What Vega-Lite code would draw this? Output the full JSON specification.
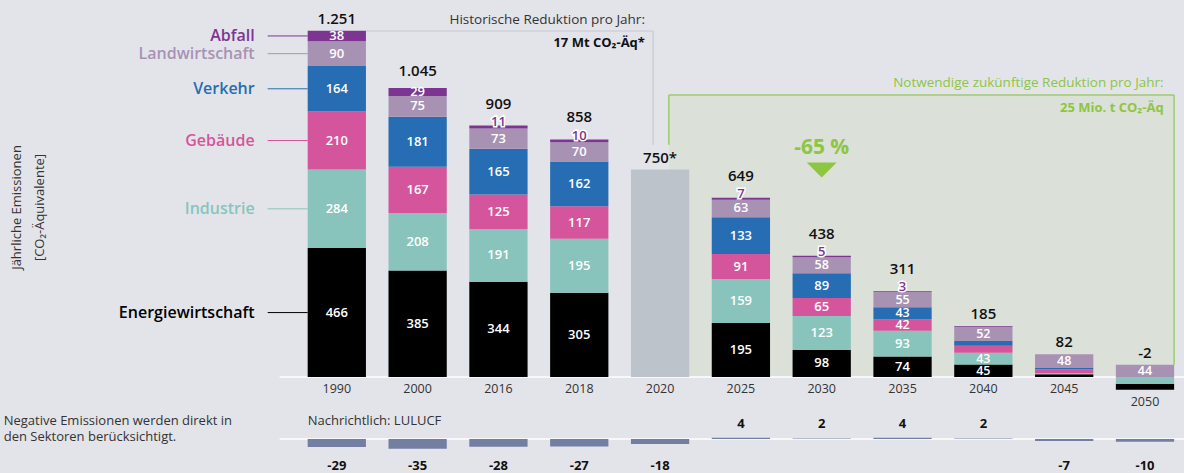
{
"$schema": "https://vega.github.io/schema/vega-lite/v6.json",
"width": 1184, "height": 473,
"autosize": {"type": "fit", "contains": "padding"},
"padding": 0,
"background": "#e3e4ea",
"config": {"view": {"stroke": null}, "font": "Open Sans", "axis": {"grid": false}, "axisX": {"disable": true}},
"datasets": {
 "sectors": [
  {"year": "1990", "sector": "Energiewirtschaft", "value": 466},
  {"year": "1990", "sector": "Industrie", "value": 284},
  {"year": "1990", "sector": "Gebäude", "value": 210},
  {"year": "1990", "sector": "Verkehr", "value": 164},
  {"year": "1990", "sector": "Landwirtschaft", "value": 90},
  {"year": "1990", "sector": "Abfall", "value": 38},
  {"year": "2000", "sector": "Energiewirtschaft", "value": 385},
  {"year": "2000", "sector": "Industrie", "value": 208},
  {"year": "2000", "sector": "Gebäude", "value": 167},
  {"year": "2000", "sector": "Verkehr", "value": 181},
  {"year": "2000", "sector": "Landwirtschaft", "value": 75},
  {"year": "2000", "sector": "Abfall", "value": 29},
  {"year": "2016", "sector": "Energiewirtschaft", "value": 344},
  {"year": "2016", "sector": "Industrie", "value": 191},
  {"year": "2016", "sector": "Gebäude", "value": 125},
  {"year": "2016", "sector": "Verkehr", "value": 165},
  {"year": "2016", "sector": "Landwirtschaft", "value": 73},
  {"year": "2016", "sector": "Abfall", "value": 11},
  {"year": "2018", "sector": "Energiewirtschaft", "value": 305},
  {"year": "2018", "sector": "Industrie", "value": 195},
  {"year": "2018", "sector": "Gebäude", "value": 117},
  {"year": "2018", "sector": "Verkehr", "value": 162},
  {"year": "2018", "sector": "Landwirtschaft", "value": 70},
  {"year": "2018", "sector": "Abfall", "value": 10},
  {"year": "2020", "sector": "Prognose", "value": 750},
  {"year": "2025", "sector": "Energiewirtschaft", "value": 195},
  {"year": "2025", "sector": "Industrie", "value": 159},
  {"year": "2025", "sector": "Gebäude", "value": 91},
  {"year": "2025", "sector": "Verkehr", "value": 133},
  {"year": "2025", "sector": "Landwirtschaft", "value": 63},
  {"year": "2025", "sector": "Abfall", "value": 7},
  {"year": "2030", "sector": "Energiewirtschaft", "value": 98},
  {"year": "2030", "sector": "Industrie", "value": 123},
  {"year": "2030", "sector": "Gebäude", "value": 65},
  {"year": "2030", "sector": "Verkehr", "value": 89},
  {"year": "2030", "sector": "Landwirtschaft", "value": 58},
  {"year": "2030", "sector": "Abfall", "value": 5},
  {"year": "2035", "sector": "Energiewirtschaft", "value": 74},
  {"year": "2035", "sector": "Industrie", "value": 93},
  {"year": "2035", "sector": "Gebäude", "value": 42},
  {"year": "2035", "sector": "Verkehr", "value": 43},
  {"year": "2035", "sector": "Landwirtschaft", "value": 55},
  {"year": "2035", "sector": "Abfall", "value": 3},
  {"year": "2040", "sector": "Energiewirtschaft", "value": 45},
  {"year": "2040", "sector": "Industrie", "value": 43},
  {"year": "2040", "sector": "Gebäude", "value": 25},
  {"year": "2040", "sector": "Verkehr", "value": 17},
  {"year": "2040", "sector": "Landwirtschaft", "value": 52},
  {"year": "2040", "sector": "Abfall", "value": 2},
  {"year": "2045", "sector": "Energiewirtschaft", "value": 10},
  {"year": "2045", "sector": "Industrie", "value": 4},
  {"year": "2045", "sector": "Gebäude", "value": 14},
  {"year": "2045", "sector": "Verkehr", "value": 6},
  {"year": "2045", "sector": "Landwirtschaft", "value": 48},
  {"year": "2050", "sector": "Energiewirtschaft", "value": -22},
  {"year": "2050", "sector": "Industrie", "value": -24},
  {"year": "2050", "sector": "Landwirtschaft", "value": 44}
 ],
 "totals": [
  {"year": "1990", "label": "1.251"},
  {"year": "2000", "label": "1.045"},
  {"year": "2016", "label": "909"},
  {"year": "2018", "label": "858"},
  {"year": "2020", "label": "750*"},
  {"year": "2025", "label": "649"},
  {"year": "2030", "label": "438"},
  {"year": "2035", "label": "311"},
  {"year": "2040", "label": "185"},
  {"year": "2045", "label": "82"},
  {"year": "2050", "label": "-2"}
 ],
 "lulucf": [
  {"year": "1990", "value": -29},
  {"year": "2000", "value": -35},
  {"year": "2016", "value": -28},
  {"year": "2018", "value": -27},
  {"year": "2020", "value": -18},
  {"year": "2025", "value": 4},
  {"year": "2030", "value": 2},
  {"year": "2035", "value": 4},
  {"year": "2040", "value": 2},
  {"year": "2045", "value": -7},
  {"year": "2050", "value": -10}
 ],
 "anchor": [{"note": "annotation"}]
},
"layer": [
 {"layer": [
  {"data": {"name": "anchor"},
   "mark": {"type": "rect", "fill": "#dbe0d9"},
   "encoding": {
    "x": {"datum": "2020", "type": "ordinal", "bandPosition": 0.65, "axis": null, "scale": {"type": "band", "domain": ["1990","2000","2016","2018","2020","2025","2030","2035","2040","2045","2050"], "range": [296.4, 1185.4], "paddingInner": 0.279, "paddingOuter": 0.1395}},
    "x2": {"datum": "2050", "bandPosition": 1},
    "y": {"datum": 1020, "type": "quantitative", "scale": {"domain": [-347, 1363], "nice": false, "zero": false},
      "axis": {"title": ["Jährliche Emissionen", "[CO₂-Äquivalente]"], "labels": false, "ticks": false, "domain": false, "grid": false, "titleX": 16, "titleY": 207, "titleAngle": 270, "titleAlign": "center", "titleBaseline": "middle", "titleLineHeight": 23, "titleFontWeight": "normal", "titleFontSize": 13, "titleColor": "#333333", "titleFont": "Open Sans"}},
    "y2": {"datum": 0}
   }},
  {"data": {"name": "anchor"},
   "mark": {"type": "rule", "color": "#9dcc6a", "strokeWidth": 1.5},
   "encoding": {
    "x": {"datum": "2020", "type": "ordinal", "bandPosition": 0.65, "axis": null},
    "x2": {"datum": "2050", "bandPosition": 1},
    "y": {"datum": 1020, "type": "quantitative"}
   }},
  {"data": {"name": "anchor"},
   "mark": {"type": "rule", "color": "#9dcc6a", "strokeWidth": 1.5},
   "encoding": {
    "x": {"datum": "2020", "type": "ordinal", "bandPosition": 0.65, "axis": null},
    "y": {"datum": 1020, "type": "quantitative"},
    "y2": {"datum": 840}
   }},
  {"data": {"name": "anchor"},
   "mark": {"type": "rule", "color": "#9dcc6a", "strokeWidth": 1.5},
   "encoding": {
    "x": {"datum": "2050", "type": "ordinal", "bandPosition": 1, "axis": null},
    "y": {"datum": 1020, "type": "quantitative"},
    "y2": {"datum": 44}
   }},
  {"data": {"name": "anchor"},
   "mark": {"type": "rule", "color": "#c6c8d0", "strokeWidth": 1.2},
   "encoding": {
    "x": {"datum": "1990", "type": "ordinal", "bandPosition": 1, "axis": null},
    "x2": {"datum": "2020", "bandPosition": 0.38},
    "y": {"datum": 1251, "type": "quantitative"}
   }},
  {"data": {"name": "anchor"},
   "mark": {"type": "rule", "color": "#c6c8d0", "strokeWidth": 1.2},
   "encoding": {
    "x": {"datum": "2020", "type": "ordinal", "bandPosition": 0.38, "axis": null},
    "y": {"datum": 1251, "type": "quantitative"},
    "y2": {"datum": 840}
   }},
  {"data": {"name": "anchor"},
   "mark": {"type": "rule", "color": "#ffffff", "strokeWidth": 1.5, "xOffset": -28, "x2Offset": 20},
   "encoding": {
    "x": {"datum": "1990", "type": "ordinal", "bandPosition": 0, "axis": null},
    "x2": {"datum": "2050", "bandPosition": 1},
    "y": {"datum": 0, "type": "quantitative"}
   }},
  {"data": {"name": "sectors"},
   "transform": [
    {"calculate": "indexof(['Energiewirtschaft','Industrie','Gebäude','Verkehr','Landwirtschaft','Abfall','Prognose'], datum.sector)", "as": "rank"},
    {"calculate": "datum.value < 0 ? -datum.rank : datum.rank", "as": "ord"},
    {"stack": "value", "groupby": ["year"], "sort": [{"field": "ord", "order": "ascending"}], "as": ["v0", "v1"]},
    {"calculate": "(datum.v0 + datum.v1) / 2", "as": "mid"}
   ],
   "layer": [
    {"mark": {"type": "bar"},
     "encoding": {
      "x": {"field": "year", "type": "ordinal", "axis": null},
      "y": {"field": "v0", "type": "quantitative"},
      "y2": {"field": "v1"},
      "color": {"field": "sector", "type": "nominal", "legend": null,
        "scale": {"domain": ["Energiewirtschaft","Industrie","Gebäude","Verkehr","Landwirtschaft","Abfall","Prognose"], "range": ["#000000","#88c4bc","#d4559b","#266db3","#a892b4","#7c3691","#bdc3ca"]}}
     }},
    {"transform": [{"filter": "datum.sector != 'Abfall' && datum.sector != 'Prognose' && datum.value >= 60"}],
     "mark": {"type": "text", "color": "#ffffff", "fontSize": 13, "fontWeight": 600, "baseline": "middle"},
     "encoding": {
      "x": {"field": "year", "type": "ordinal", "axis": null},
      "y": {"field": "mid", "type": "quantitative"},
      "text": {"field": "value", "type": "nominal"}
     }},
    {"transform": [{"filter": "datum.sector != 'Abfall' && datum.sector != 'Prognose' && datum.value >= 40 && datum.value < 60"}],
     "mark": {"type": "text", "color": "#ffffff", "fontSize": 12.5, "fontWeight": 600, "baseline": "middle"},
     "encoding": {
      "x": {"field": "year", "type": "ordinal", "axis": null},
      "y": {"field": "mid", "type": "quantitative"},
      "text": {"field": "value", "type": "nominal"}
     }},
    {"transform": [{"filter": "datum.sector == 'Abfall' && datum.value >= 20"}],
     "mark": {"type": "text", "color": "#ffffff", "fontSize": 13, "fontWeight": 600, "baseline": "middle"},
     "encoding": {
      "x": {"field": "year", "type": "ordinal", "axis": null},
      "y": {"field": "mid", "type": "quantitative"},
      "text": {"field": "value", "type": "nominal"}
     }},
    {"transform": [{"filter": "datum.sector == 'Abfall' && datum.value >= 3 && datum.value < 20"}],
     "mark": {"type": "text", "fill": "#ffffff", "stroke": "#ffffff", "strokeWidth": 3, "fontSize": 13, "fontWeight": 600, "baseline": "middle", "dy": -5},
     "encoding": {
      "x": {"field": "year", "type": "ordinal", "axis": null},
      "y": {"field": "mid", "type": "quantitative"},
      "text": {"field": "value", "type": "nominal"}
     }},
    {"transform": [{"filter": "datum.sector == 'Abfall' && datum.value >= 3 && datum.value < 20"}],
     "mark": {"type": "text", "fill": "#7c3691", "fontSize": 13, "fontWeight": 600, "baseline": "middle", "dy": -5},
     "encoding": {
      "x": {"field": "year", "type": "ordinal", "axis": null},
      "y": {"field": "mid", "type": "quantitative"},
      "text": {"field": "value", "type": "nominal"}
     }},
    {"transform": [{"filter": "datum.year == '1990'"}],
     "mark": {"type": "rule", "strokeWidth": 1, "xOffset": -40},
     "encoding": {
      "x": {"datum": "1990", "type": "ordinal", "bandPosition": 0, "axis": null},
      "x2": {"datum": "1990", "bandPosition": 0},
      "y": {"field": "mid", "type": "quantitative"},
      "color": {"field": "sector", "type": "nominal", "legend": null}
     }},
    {"transform": [{"filter": "datum.year == '1990'"}],
     "mark": {"type": "text", "fontSize": 16, "fontWeight": 600, "align": "right", "baseline": "middle", "dx": -53},
     "encoding": {
      "x": {"field": "year", "type": "ordinal", "bandPosition": 0, "axis": null},
      "y": {"field": "mid", "type": "quantitative"},
      "text": {"field": "sector", "type": "nominal"},
      "color": {"field": "sector", "type": "nominal", "legend": null}
     }}
   ]},
  {"data": {"name": "sectors"},
   "transform": [
    {"filter": "datum.value > 0"},
    {"aggregate": [{"op": "sum", "field": "value", "as": "top"}], "groupby": ["year"]},
    {"lookup": "year", "from": {"data": {"name": "totals"}, "key": "year", "fields": ["label"]}}
   ],
   "layer": [
    {"transform": [{"filter": "indexof(['2016','2018','2025','2030','2035'], datum.year) >= 0"}],
     "mark": {"type": "text", "fontSize": 15, "fontWeight": 600, "color": "#111111", "baseline": "middle", "dy": -22},
     "encoding": {"x": {"field": "year", "type": "ordinal", "axis": null}, "y": {"field": "top", "type": "quantitative"}, "text": {"field": "label", "type": "nominal"}}},
    {"transform": [{"filter": "datum.year == '2000'"}],
     "mark": {"type": "text", "fontSize": 15, "fontWeight": 600, "color": "#111111", "baseline": "middle", "dy": -17},
     "encoding": {"x": {"field": "year", "type": "ordinal", "axis": null}, "y": {"field": "top", "type": "quantitative"}, "text": {"field": "label", "type": "nominal"}}},
    {"transform": [{"filter": "indexof(['1990','2020','2040','2045','2050'], datum.year) >= 0"}],
     "mark": {"type": "text", "fontSize": 15, "fontWeight": 600, "color": "#111111", "baseline": "middle", "dy": -12},
     "encoding": {"x": {"field": "year", "type": "ordinal", "axis": null}, "y": {"field": "top", "type": "quantitative"}, "text": {"field": "label", "type": "nominal"}}}
   ]},
  {"data": {"name": "totals"},
   "transform": [{"filter": "datum.year != '2050'"}],
   "mark": {"type": "text", "fontSize": 12.5, "color": "#333333", "baseline": "middle", "dy": 12},
   "encoding": {"x": {"field": "year", "type": "ordinal", "axis": null}, "y": {"datum": 0, "type": "quantitative"}, "text": {"field": "year", "type": "nominal"}}},
  {"data": {"name": "totals"},
   "transform": [{"filter": "datum.year == '2050'"}],
   "mark": {"type": "text", "fontSize": 12.5, "color": "#333333", "baseline": "middle", "dy": 25},
   "encoding": {"x": {"field": "year", "type": "ordinal", "axis": null}, "y": {"datum": 0, "type": "quantitative"}, "text": {"field": "year", "type": "nominal"}}},
  {"data": {"name": "anchor"},
   "mark": {"type": "text", "text": "Historische Reduktion pro Jahr:", "fontSize": 13.5, "color": "#333333", "align": "right", "baseline": "middle"},
   "encoding": {"x": {"datum": "2020", "type": "ordinal", "bandPosition": 0.24, "axis": null}, "y": {"datum": 1291, "type": "quantitative"}}},
  {"data": {"name": "anchor"},
   "mark": {"type": "text", "text": "17 Mt CO₂-Äq*", "fontSize": 13, "fontWeight": "bold", "color": "#111111", "align": "right", "baseline": "middle"},
   "encoding": {"x": {"datum": "2020", "type": "ordinal", "bandPosition": 0.24, "axis": null}, "y": {"datum": 1207, "type": "quantitative"}}},
  {"data": {"name": "anchor"},
   "mark": {"type": "text", "text": "Notwendige zukünftige Reduktion pro Jahr:", "fontSize": 13.5, "color": "#8dc641", "align": "right", "baseline": "middle"},
   "encoding": {"x": {"datum": "2050", "type": "ordinal", "bandPosition": 0.82, "axis": null}, "y": {"datum": 1063, "type": "quantitative"}}},
  {"data": {"name": "anchor"},
   "mark": {"type": "text", "text": "25 Mio. t CO₂-Äq", "fontSize": 13, "fontWeight": "bold", "color": "#8dc641", "align": "right", "baseline": "middle"},
   "encoding": {"x": {"datum": "2050", "type": "ordinal", "bandPosition": 0.82, "axis": null}, "y": {"datum": 972, "type": "quantitative"}}},
  {"data": {"name": "anchor"},
   "mark": {"type": "text", "text": "-65 %", "fontSize": 21, "fontWeight": "bold", "color": "#8dc641", "align": "center", "baseline": "middle"},
   "encoding": {"x": {"datum": "2030", "type": "ordinal", "axis": null}, "y": {"datum": 828, "type": "quantitative"}}},
  {"data": {"name": "anchor"},
   "mark": {"type": "point", "shape": "M-1,-0.5L1,-0.5L0,0.5Z", "size": 900, "filled": true, "fill": "#8dc641", "opacity": 1, "strokeWidth": 0},
   "encoding": {"x": {"datum": "2030", "type": "ordinal", "axis": null}, "y": {"datum": 748, "type": "quantitative"}}}
 ]},
 {"layer": [
  {"data": {"name": "anchor"},
   "mark": {"type": "rule", "color": "#ffffff", "strokeWidth": 1.5, "xOffset": -28, "x2Offset": 20},
   "encoding": {
    "x": {"datum": "1990", "type": "ordinal", "bandPosition": 0, "axis": null},
    "x2": {"datum": "2050", "bandPosition": 1},
    "y": {"datum": 0, "type": "quantitative", "scale": {"domain": [-123, 1587], "nice": false, "zero": false}, "axis": null}
   }},
  {"data": {"name": "lulucf"},
   "mark": {"type": "bar", "color": "#737ea3"},
   "encoding": {
    "x": {"field": "year", "type": "ordinal", "axis": null},
    "y": {"field": "value", "type": "quantitative", "axis": null},
    "y2": {"datum": 0}
   }},
  {"data": {"name": "lulucf"},
   "transform": [{"filter": "datum.value < 0"}],
   "mark": {"type": "text", "fontSize": 13, "fontWeight": "bold", "color": "#111111", "baseline": "middle", "dy": 27},
   "encoding": {"x": {"field": "year", "type": "ordinal", "axis": null}, "y": {"datum": 0, "type": "quantitative"}, "text": {"field": "value", "type": "nominal"}}},
  {"data": {"name": "lulucf"},
   "transform": [{"filter": "datum.value > 0"}],
   "mark": {"type": "text", "fontSize": 13, "fontWeight": "bold", "color": "#111111", "baseline": "middle", "dy": -15},
   "encoding": {"x": {"field": "year", "type": "ordinal", "axis": null}, "y": {"datum": 0, "type": "quantitative"}, "text": {"field": "value", "type": "nominal"}}},
  {"data": {"name": "anchor"},
   "mark": {"type": "text", "text": "Nachrichtlich: LULUCF", "fontSize": 13, "color": "#333333", "align": "left", "baseline": "middle", "dy": -18},
   "encoding": {"x": {"datum": "1990", "type": "ordinal", "bandPosition": 0, "axis": null}, "y": {"datum": 0, "type": "quantitative"}}},
  {"data": {"name": "anchor"},
   "mark": {"type": "text", "text": ["Negative Emissionen werden direkt in", "den Sektoren berücksichtigt."], "lineHeight": 16, "fontSize": 13, "color": "#333333", "align": "left", "baseline": "middle", "dx": -304, "dy": -18},
   "encoding": {"x": {"datum": "1990", "type": "ordinal", "bandPosition": 0, "axis": null}, "y": {"datum": 0, "type": "quantitative"}}}
 ]}
],
"resolve": {"scale": {"y": "independent"}}
}
